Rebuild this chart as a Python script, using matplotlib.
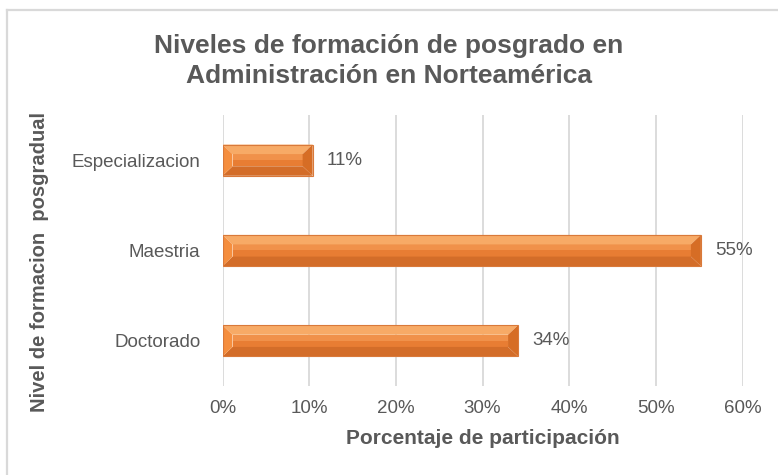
import matplotlib
matplotlib.use("Agg")
import matplotlib.pyplot as plt
from matplotlib.patches import Polygon
from matplotlib.lines import Line2D

categories = ["Especializacion", "Maestria", "Doctorado"]
values = [10.4, 55.2, 34.1]
value_labels = ["11%", "55%", "34%"]
xticks = [0, 10, 20, 30, 40, 50, 60]
xtick_labels = ["0%", "10%", "20%", "30%", "40%", "50%", "60%"]
title = "Niveles de formación de posgrado en\nAdministración en Norteamérica"
xlabel = "Porcentaje de participación"
ylabel = "Nivel de formacion  posgradual"

plt.rcParams['font.family'] = ['Liberation Sans', 'DejaVu Sans']
TXT = "#595959"
GRID = "#D9D9D9"

W, H = 778, 475
fig = plt.figure(figsize=(W / 100, H / 100), dpi=100)
ax = fig.add_axes([222.5 / W, 1 - 386 / H, (742.5 - 222.5) / W, (386 - 115) / H])

ypos = list(range(len(categories)))
ax.set_xlim(0, 60)
ax.set_ylim(len(categories) - 0.5, -0.5)
ax.set_xticks(xticks)
ax.set_xticklabels(xtick_labels)
ax.set_yticks(ypos)
ax.set_yticklabels(categories)
ax.tick_params(axis='both', length=0, labelsize=13.5, colors=TXT)
ax.tick_params(axis='x', pad=10)
ax.tick_params(axis='y', pad=16)
for s in ax.spines.values():
    s.set_visible(False)
ax.grid(axis='x', color=GRID, linewidth=1.3)
ax.set_axisbelow(True)

bar_h = 0.345
# bevel size in data units (~10 px)
px_x = (742.5 - 222.5) / 60.0
px_y = (386 - 115) / 3.0
bx = 10.0 / px_x
by = 9.5 / px_y

c_top = "#F7AA66"
c_center_hi = "#F0914A"
c_center_lo = "#E87D33"
c_bottom = "#D36D29"
c_left = "#F58E3E"
c_right = "#D66D25"

for y, v, lab in zip(ypos, values, value_labels):
    yt = y - bar_h / 2  # screen top (axis inverted)
    yb = y + bar_h / 2
    x0, x1 = 0, v
    ym = y
    ax.add_patch(Polygon([(x0 + bx, yt + by), (x1 - bx, yt + by), (x1 - bx, ym), (x0 + bx, ym)],
                         closed=True, facecolor=c_center_hi, edgecolor='none', zorder=3))
    ax.add_patch(Polygon([(x0 + bx, ym), (x1 - bx, ym), (x1 - bx, yb - by), (x0 + bx, yb - by)],
                         closed=True, facecolor=c_center_lo, edgecolor='none', zorder=3))
    ax.add_patch(Polygon([(x0, yt), (x1, yt), (x1 - bx, yt + by), (x0 + bx, yt + by)],
                         closed=True, facecolor=c_top, edgecolor='none', zorder=3))
    ax.add_patch(Polygon([(x0, yb), (x1, yb), (x1 - bx, yb - by), (x0 + bx, yb - by)],
                         closed=True, facecolor=c_bottom, edgecolor='none', zorder=3))
    ax.add_patch(Polygon([(x0, yt), (x0 + bx, yt + by), (x0 + bx, yb - by), (x0, yb)],
                         closed=True, facecolor=c_left, edgecolor='none', zorder=3))
    ax.add_patch(Polygon([(x1, yt), (x1 - bx, yt + by), (x1 - bx, yb - by), (x1, yb)],
                         closed=True, facecolor=c_right, edgecolor='none', zorder=3))
    ax.add_patch(Polygon([(x0, yt), (x1, yt), (x1, yb), (x0, yb)], closed=True,
                         facecolor='none', edgecolor="#D9793A", linewidth=0.8, zorder=4))
    ax.annotate(lab, xy=(v, y), xytext=(10, 0), textcoords='offset points',
                ha='left', va='center', fontsize=13.5, color=TXT, zorder=5)

ax.set_xlabel(xlabel, fontsize=15, fontweight='bold', color=TXT, labelpad=9)
fig.text(40 / W, 1 - 262 / H, ylabel, rotation=90, ha='center', va='center',
         fontsize=14.5, fontweight='bold', color=TXT)
fig.text(389 / W, 1 - 61 / H, title, ha='center', va='center', fontsize=19,
         fontweight='bold', color=TXT, linespacing=1.33)

fig.add_artist(Line2D([7 / W, 1], [1 - 10 / H, 1 - 10 / H], color=GRID, linewidth=1.6,
                      transform=fig.transFigure))
fig.add_artist(Line2D([7 / W, 7 / W], [1 - 10 / H, 0], color=GRID, linewidth=1.6,
                      transform=fig.transFigure))

fig.savefig("out.png", dpi=100)
